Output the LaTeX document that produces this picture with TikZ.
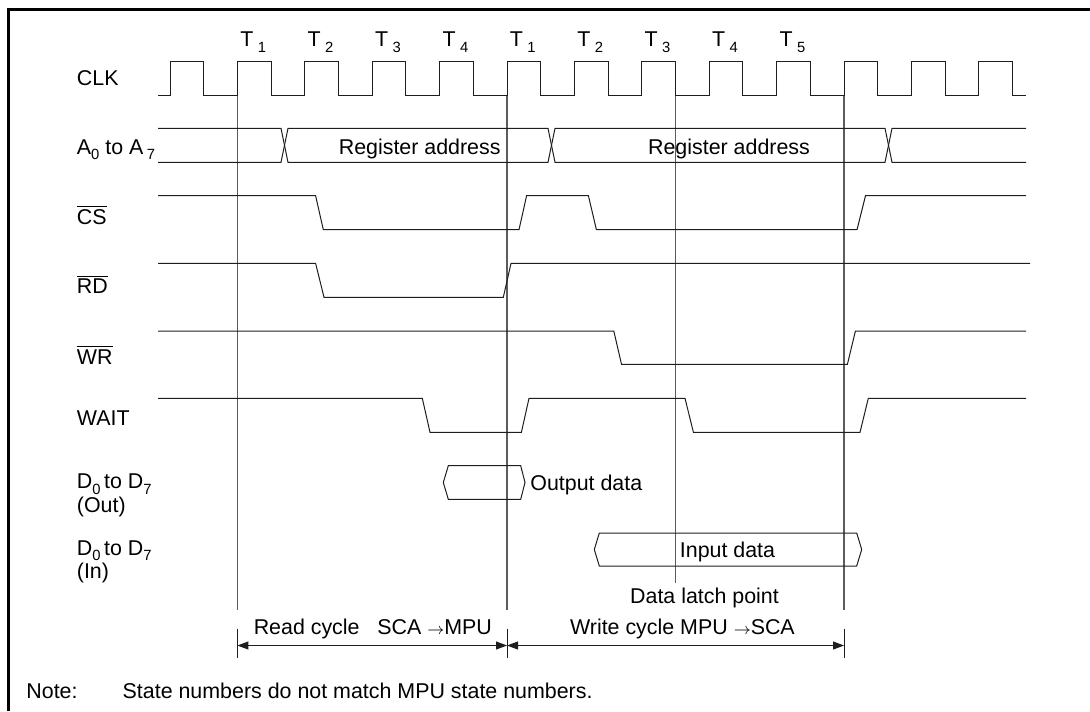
\documentclass[tikz,border=0pt]{standalone}
\usepackage{fontspec}
\setmainfont{Liberation Sans}
\usetikzlibrary{arrows.meta}
\definecolor{ink}{HTML}{1E1E1E}
\definecolor{guideink}{HTML}{5C5C5C}
\newcommand{\diagfont}{\fontsize{10.7pt}{11.6pt}\selectfont}
\newcommand{\dsub}[1]{\raisebox{-2.8pt}{\fontsize{7.4pt}{8pt}\selectfont #1}}
\newcommand{\tinyarrow}{{\fontsize{7.6pt}{8pt}\selectfont$\rightarrow$}}
\tikzset{
  wave/.style={draw=ink,line width=0.5pt},
  guide/.style={draw=guideink,line width=0.7pt},
  frame/.style={draw=black,line width=1.7pt},
  sig/.style={anchor=base west,inner sep=0pt,font=\diagfont,align=left},
  txt/.style={anchor=base,inner sep=0pt,font=\diagfont},
  span/.style={{Triangle[length=5.5pt,width=4pt]}-{Triangle[length=5.5pt,width=4pt]},draw=ink,line width=0.5pt}
}

\begin{document}
\begin{tikzpicture}[x=0.5pt,y=-0.5pt]
  \useasboundingbox (0,0) rectangle (1090,711);
  \draw[frame] (8.5,711) -- (8.5,9.7) -- (1090,9.7);

  \node[sig] (clk) at (76.5,86) {CLK};
  \node[sig] (addr) at (76.5,154.3) {A\dsub{0} to A\,\dsub{7}};
  \node[sig] (cs) at (76.5,224.3) {$\overline{\mbox{CS}}$};
  \node[sig] (rd) at (76.5,293.6) {$\overline{\mbox{RD}}$};
  \node[sig] (wr) at (76.5,364.3) {$\overline{\mbox{WR}}$};
  \node[sig] (wait) at (76.5,425) {WAIT};
  \node[sig] (dout) at (76.5,512) {D\dsub{0}\,to D\dsub{7}\\(Out)};
  \node[sig] (din) at (76.5,578.5) {D\dsub{0}\,to D\dsub{7}\\(In)};

  \foreach \k/\n in {1/1,2/2,3/3,4/4,5/1,6/2,7/3,8/4,9/5}
    \node[sig] (t\k) at ({172.5+67.4*\k},46.7) {T\dsub{\hspace{0.3em}\n}};

  \draw[guide] (237.4,95.7) -- (237.4,610);
  \draw[guide] (507,95.7) -- (507,610);
  \draw[guide] (675.5,61.7) -- (675.5,583);
  \draw[guide] (844,95.7) -- (844,610);

  \draw[wave] (158,95.7) \foreach \k in {0,...,12}{
    -- ({170+67.4*\k},95.7) -- ({170+67.4*\k},61.7)
    -- ({203.7+67.4*\k},61.7) -- ({203.7+67.4*\k},95.7)} -- (1026,95.7);

  \draw[wave] (158,128.3) -- (281,128.3) -- (288,162.3) -- (548,162.3) -- (555,128.3)
    -- (885,128.3) -- (892,162.3) -- (1026,162.3);
  \draw[wave] (158,162.3) -- (281,162.3) -- (288,128.3) -- (548,128.3) -- (555,162.3)
    -- (885,162.3) -- (892,128.3) -- (1026,128.3);
  \node[txt] (reg1) at (419.7,154.3) {Register address};
  \node[txt] (reg2) at (729,154.3) {Register address};

  \draw[wave] (158,195.7) -- (315.6,195.7) -- (323.3,229.7) -- (519,229.7) -- (526.6,195.7)
    -- (588.4,195.7) -- (596.4,229.7) -- (857,229.7) -- (865.5,195.7) -- (1026,195.7);
  \draw[wave] (158,263.3) -- (315.6,263.3) -- (324,297.3) -- (503.3,297.3) -- (511,263.3)
    -- (1030,263.3);
  \draw[wave] (158,331) -- (613.8,331) -- (621.5,364.3) -- (847.4,364.3) -- (855.4,331)
    -- (1026,331);
  \draw[wave] (158,398.3) -- (422.3,398.3) -- (430,432.3) -- (521.4,432.3) -- (529,398.3)
    -- (685,398.3) -- (693.4,432.3) -- (860,432.3) -- (868.3,398.3) -- (1026,398.3);

  \draw[wave] (448.3,465.7) -- (520.7,465.7) -- (525,482.5) -- (520.7,499.3)
    -- (448.3,499.3) -- (443.3,482.5) -- cycle;
  \node[txt,anchor=base west] (outdata) at (530,490.3) {Output data};
  \draw[wave] (599.3,533) -- (856.7,533) -- (861.7,549.5) -- (856.7,566)
    -- (599.3,566) -- (594.3,549.5) -- cycle;
  \node[txt] (indata) at (727.5,557.5) {Input data};
  \node[txt] (latch) at (704.5,603.4) {Data latch point};

  \coordinate (m1) at (237.4,645.5);
  \coordinate (m2) at (507,645.5);
  \coordinate (m3) at (844,645.5);
  \foreach \c in {m1,m2,m3}
    \draw[wave] ([yshift=8.4pt]\c) -- ([yshift=-6.1pt]\c);
  \draw[span] (m1) -- (m2);
  \draw[span] (m2) -- (m3);
  \node[txt] (rdcycle) at (372.8,634.5) {Read cycle\hspace{0.55em} SCA \tinyarrow MPU};
  \node[txt] (wrcycle) at (682.4,634.5) {Write cycle MPU \tinyarrow SCA};

  \node[sig] (note) at (26,698) {Note:};
  \node[sig] (notetext) at (122.3,698) {State numbers do not match MPU state numbers.};
\end{tikzpicture}
\end{document}
